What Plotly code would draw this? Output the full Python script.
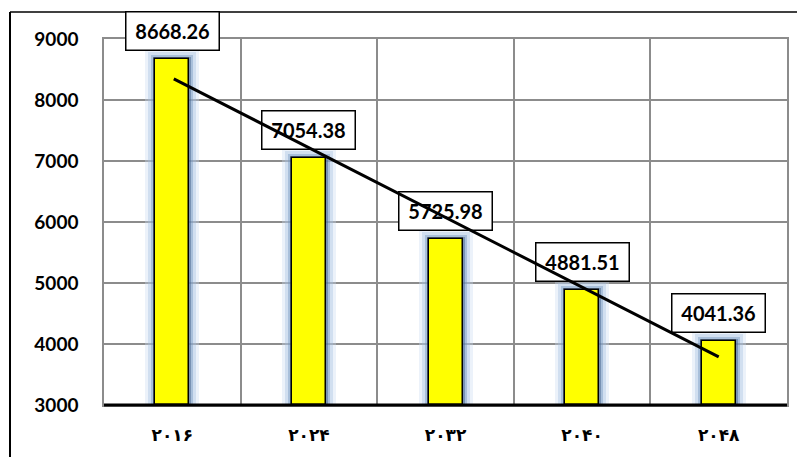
import numpy as np
import plotly.graph_objects as go

# ---- data ----
years = [2016, 2024, 2032, 2040, 2048]
year_labels = ["۲۰۱۶", "۲۰۲۴", "۲۰۳۲", "۲۰۴۰", "۲۰۴۸"]
values = [8668.26, 7054.38, 5725.98, 4881.51, 4041.36]
y_ticks = [3000, 4000, 5000, 6000, 7000, 8000, 9000]

xs = np.arange(len(values))
slope, intercept = np.polyfit(xs, values, 1)
trend = slope * xs + intercept

# page body has an 8px margin; compensate so the plot lands where the reference has it
OFF = 8
W, H = 805, 457
ML, MT = 104 - OFF, 39 - OFF
MR = W - (787 - OFF)
MB = H - (405 - OFF)
plot_w = W - ML - MR
plot_h = H - MT - MB
y_min, y_max = 3000, 9000
units_per_px = (y_max - y_min) / plot_h
cat_px = plot_w / len(values)

fig = go.Figure()

# glow layers behind bars
glow = [(10, "rgba(200,218,240,0.35)"), (7, "rgba(160,188,222,0.35)"),
        (4, "rgba(110,145,188,0.4)"), (2, "rgba(60,90,130,0.45)")]
bar_w = 34 / cat_px
for px, col in glow:
    fig.add_trace(go.Bar(
        x=xs, y=[v - y_min + px * units_per_px for v in values], base=y_min,
        width=bar_w + 2 * px / cat_px, marker=dict(color=col, line=dict(width=0)),
        hoverinfo="skip", showlegend=False))

fig.add_trace(go.Bar(
    x=xs, y=[v - y_min for v in values], base=y_min, width=bar_w,
    marker=dict(color="#FFFF00", line=dict(color="black", width=1.5)),
    showlegend=False))

for i, v in enumerate(values):
    fig.add_annotation(
        x=i, y=v, xref="x", yref="y", text=f"<b>{v:.2f}</b>", showarrow=False,
        yanchor="bottom", yshift=8, width=90, height=35, borderpad=1,
        bgcolor="white", bordercolor="black", borderwidth=1.5,
        font=dict(family="Lato", size=20, color="black"))

# trend line (drawn on top of the label boxes)
fig.add_annotation(
    x=xs[-1], y=trend[-1], ax=xs[0], ay=trend[0], xref="x", yref="y",
    axref="x", ayref="y", text="", showarrow=True, arrowhead=0,
    arrowwidth=3, arrowcolor="black", standoff=0, startstandoff=0)

# outer frame lines
fx = (10 - OFF - ML) / plot_w
fy = 1 + (MT - (12 - OFF)) / plot_h
fig.add_shape(type="line", xref="paper", yref="paper",
              x0=fx, x1=1.05, y0=fy, y1=fy,
              line=dict(color="black", width=1.5))
fig.add_shape(type="line", xref="paper", yref="paper",
              x0=fx, x1=fx, y0=fy, y1=-0.2,
              line=dict(color="black", width=2))
# bottom axis line
fig.add_shape(type="line", xref="paper", yref="paper", x0=0, x1=1, y0=0, y1=0,
              line=dict(color="black", width=3), layer="above")

fig.update_layout(
    width=W, height=H, margin=dict(l=ML, r=MR, t=MT, b=MB),
    paper_bgcolor="white", plot_bgcolor="white", barmode="overlay",
    bargap=0, showlegend=False,
    xaxis=dict(range=[-0.5, len(values) - 0.5], tickvals=list(xs), ticktext=year_labels,
               showgrid=False, zeroline=False, ticks="",
               showline=True, mirror=True, linecolor="#8c8c8c", linewidth=1.5,
               minor=dict(tick0=0.5, dtick=1, showgrid=True, gridcolor="#8c8c8c",
                          gridwidth=1.5, ticks=""),
               tickfont=dict(family="DejaVu Sans", size=17, color="black", weight="bold"),
               ticklabelstandoff=14),
    yaxis=dict(range=[y_min, y_max], tickvals=y_ticks, showgrid=True,
               gridcolor="#8c8c8c", gridwidth=1.5, zeroline=False, ticks="",
               showline=True, mirror=True, linecolor="#8c8c8c", linewidth=1.5,
               tickfont=dict(family="Lato", size=19, color="black", weight="bold"),
               ticklabelstandoff=20),
)

fig.write_html("out.html")
